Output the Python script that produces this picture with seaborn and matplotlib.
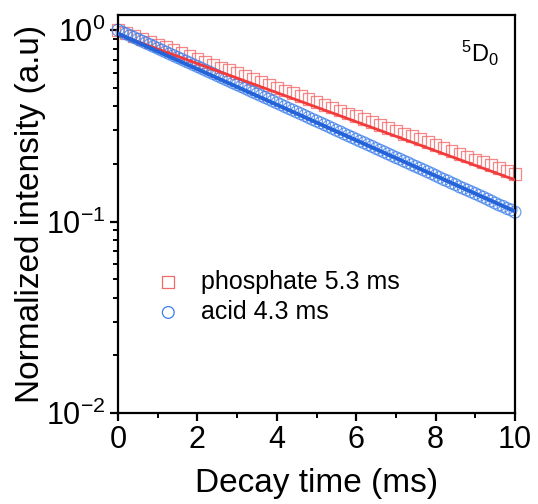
import numpy as np
import pandas as pd
import matplotlib
matplotlib.use("Agg")
import matplotlib.pyplot as plt
import seaborn as sns
from matplotlib.ticker import LogLocator, MultipleLocator, NullFormatter

# ---- data ----
phos_time = [round(0.2 * i, 2) for i in range(51)]
phos_int = [1.000, 0.966, 0.933, 0.902, 0.871, 0.841, 0.813, 0.785, 0.759, 0.733,
            0.708, 0.684, 0.661, 0.638, 0.617, 0.596, 0.575, 0.556, 0.537, 0.519,
            0.501, 0.484, 0.468, 0.452, 0.437, 0.422, 0.407, 0.394, 0.380, 0.367,
            0.355, 0.343, 0.331, 0.320, 0.309, 0.299, 0.288, 0.279, 0.269, 0.260,
            0.251, 0.243, 0.234, 0.226, 0.219, 0.211, 0.204, 0.197, 0.191, 0.184,
            0.178]
acid_time = [round(0.1 * i, 2) for i in range(101)]
acid_int = [1.000, 0.978, 0.957, 0.937, 0.916, 0.896, 0.877, 0.858, 0.840, 0.821,
            0.804, 0.786, 0.769, 0.752, 0.736, 0.720, 0.705, 0.689, 0.675, 0.660,
            0.646, 0.632, 0.618, 0.605, 0.592, 0.579, 0.566, 0.554, 0.542, 0.530,
            0.519, 0.508, 0.497, 0.486, 0.475, 0.465, 0.455, 0.445, 0.436, 0.426,
            0.417, 0.408, 0.399, 0.390, 0.382, 0.374, 0.366, 0.358, 0.350, 0.342,
            0.335, 0.328, 0.321, 0.314, 0.307, 0.300, 0.294, 0.287, 0.281, 0.275,
            0.269, 0.263, 0.258, 0.252, 0.247, 0.241, 0.236, 0.231, 0.226, 0.221,
            0.216, 0.212, 0.207, 0.203, 0.198, 0.194, 0.190, 0.186, 0.182, 0.178,
            0.174, 0.170, 0.166, 0.163, 0.159, 0.156, 0.152, 0.149, 0.146, 0.143,
            0.140, 0.137, 0.134, 0.131, 0.128, 0.125, 0.122, 0.120, 0.117, 0.115,
            0.112]
# exponential fits (straight lines on log axis): endpoints
fit_time = [0.0, 10.0]
phos_fit = [0.95, 0.165]
acid_fit = [0.96, 0.113]

labels = ["phosphate 5.3 ms", "acid 4.3 ms"]
xticks = [0, 2, 4, 6, 8, 10]

sns.set_style("ticks")
plt.rcParams["font.family"] = ["Liberation Sans", "DejaVu Sans"]
plt.rcParams["mathtext.fontset"] = "custom"
plt.rcParams["mathtext.rm"] = "Liberation Sans"
plt.rcParams["mathtext.it"] = "Liberation Sans"
plt.rcParams["mathtext.default"] = "regular"
plt.rcParams["text.color"] = "black"
plt.rcParams["axes.labelcolor"] = "black"
plt.rcParams["xtick.color"] = "black"
plt.rcParams["ytick.color"] = "black"

fig = plt.figure(figsize=(5.38, 5.04), dpi=100)
ax = fig.add_axes([118 / 538, 1 - 413 / 504, 397 / 538, 398 / 504])

red_edge = "#F26B6B"
red_line = "#F23A3A"
blue_edge = "#3D7EEA"
blue_line = "#2563D9"

df_p = pd.DataFrame({"t": phos_time, "I": phos_int})
df_a = pd.DataFrame({"t": acid_time, "I": acid_int})

sns.scatterplot(data=df_p, x="t", y="I", ax=ax, marker="s", s=72,
                facecolor="none", edgecolor=red_edge, linewidth=0.9, alpha=0.8,
                zorder=2, clip_on=False)
sns.scatterplot(data=df_a, x="t", y="I", ax=ax, marker="o", s=72,
                facecolor="none", edgecolor=blue_edge, linewidth=0.9, alpha=0.75,
                zorder=2, clip_on=False)
sns.lineplot(x=fit_time, y=phos_fit, ax=ax, color=red_line, linewidth=2.0, zorder=3)
sns.lineplot(x=fit_time, y=acid_fit, ax=ax, color=blue_line, linewidth=2.8, zorder=3)

ax.set_yscale("log")
ax.set_xlim(0, 10)
ax.set_ylim(0.01, 1.2)
ax.set_xticks(xticks)
ax.xaxis.set_minor_locator(MultipleLocator(1))
ax.yaxis.set_major_locator(LogLocator(base=10, numticks=10))
ax.yaxis.set_minor_locator(LogLocator(base=10, subs=np.arange(2, 10), numticks=10))
ax.yaxis.set_minor_formatter(NullFormatter())

for s in ax.spines.values():
    s.set_linewidth(1.6)
    s.set_color("black")
ax.tick_params(axis="both", which="major", direction="out", length=6, width=1.6,
               labelsize=22, top=False, right=False, pad=3, color="black")
ax.tick_params(axis="both", which="minor", direction="out", length=3.5, width=1.4,
               top=False, right=False, color="black")

ax.set_xlabel("Decay time (ms)", fontsize=24, labelpad=9)
ax.set_ylabel("Normalized intensity (a.u)", fontsize=24, labelpad=0)

h1 = ax.scatter([], [], marker="s", s=72, facecolor="none", edgecolor=red_edge, linewidth=0.9)
h2 = ax.scatter([], [], marker="o", s=72, facecolor="none", edgecolor=blue_edge, linewidth=0.9)
ax.legend([h1, h2], labels, loc="upper left", bbox_to_anchor=(0.07, 0.385),
          frameon=False, fontsize=18, handlelength=1.0, handletextpad=0.8,
          labelspacing=0.25, borderaxespad=0)

ax.text(0.96, 0.94, r"$^{5}$D$_{0}$", transform=ax.transAxes, ha="right", va="top",
        fontsize=17)

fig.savefig("out.png", dpi=100)
